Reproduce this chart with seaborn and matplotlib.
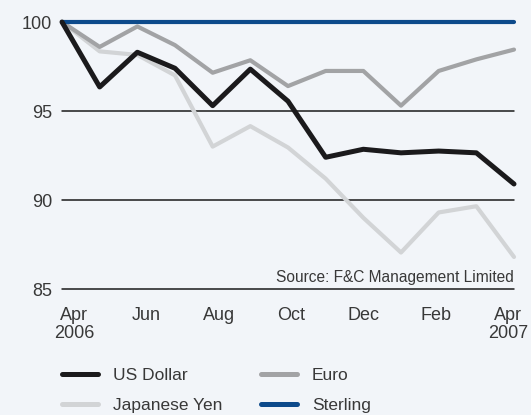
import numpy as np
import pandas as pd
import matplotlib
matplotlib.use("Agg")
import matplotlib.pyplot as plt
import seaborn as sns

# Monthly index values, Apr 2006 .. Apr 2007 (rebased to 100)
months = ["Apr 06", "May 06", "Jun 06", "Jul 06", "Aug 06", "Sep 06", "Oct 06",
          "Nov 06", "Dec 06", "Jan 07", "Feb 07", "Mar 07", "Apr 07"]
us_dollar = [100, 96.35, 98.3, 97.4, 95.3, 97.35, 95.55, 92.4, 92.85, 92.65, 92.75, 92.65, 90.9]
euro = [100, 98.6, 99.75, 98.7, 97.15, 97.85, 96.4, 97.25, 97.25, 95.3, 97.25, 97.9, 98.45]
yen = [100, 98.35, 98.15, 97.0, 93.0, 94.15, 92.95, 91.2, 89.0, 87.05, 89.3, 89.65, 86.8]
sterling = [100] * 13

tick_labels = ["Apr\n2006", "Jun", "Aug", "Oct", "Dec", "Feb", "Apr\n2007"]
y_ticks = [85, 90, 95, 100]

series_names = ["US Dollar", "Japanese Yen", "Euro", "Sterling"]
series_colors = {"US Dollar": "#1b1a1c", "Japanese Yen": "#d2d4d6",
                 "Euro": "#a2a3a5", "Sterling": "#0d4a8b"}

df = pd.DataFrame({
    "idx": np.arange(len(months)),
    "US Dollar": us_dollar,
    "Euro": euro,
    "Japanese Yen": yen,
    "Sterling": sterling,
})
long = df.melt(id_vars="idx", var_name="currency", value_name="value")

sns.set_theme(style="white")
plt.rcParams["font.family"] = ["Liberation Sans", "DejaVu Sans"]

bg = "#f2f5f9"
txt = "#383838"
fig = plt.figure(figsize=(5.31, 4.15), dpi=100, facecolor=bg)
ax = fig.add_axes([62 / 531, 1 - 289 / 415, 452 / 531, 267 / 415])
ax.set_facecolor(bg)

# gridlines first
for y in y_ticks:
    ax.axhline(y, color="#1a1a1a", lw=1.1, zorder=1, clip_on=False)

draw_order = ["Japanese Yen", "Euro", "Sterling", "US Dollar"]
widths = {"US Dollar": 3.6, "Japanese Yen": 3.0, "Euro": 3.0, "Sterling": 3.0}
for i, name in enumerate(draw_order):
    sub = long[long["currency"] == name]
    sns.lineplot(data=sub, x="idx", y="value", ax=ax, color=series_colors[name],
                 lw=widths[name], legend=False, zorder=2 + i, clip_on=False,
                 solid_capstyle="round", solid_joinstyle="round")

ax.set_xlim(0, 12)
ax.set_ylim(85, 100)
ax.set_yticks(y_ticks)
ax.set_yticklabels([str(v) for v in y_ticks])
ax.set_xticks(np.linspace(0.32, 11.84, len(tick_labels)))
ax.set_xticklabels(tick_labels, linespacing=1.1)
ax.tick_params(axis="both", length=0, labelsize=13, colors=txt)
ax.tick_params(axis="y", pad=7)
ax.tick_params(axis="x", pad=13)
ax.set_xlabel("")
ax.set_ylabel("")
for s in ax.spines.values():
    s.set_visible(False)

ax.text(12, 85.25, "Source: F&C Management Limited", ha="right", va="bottom",
        fontsize=11.2, color=txt)

handles = [plt.Line2D([], [], color=series_colors[n], lw=3.6) for n in series_names]
fig.legend(handles, series_names, loc="upper left", bbox_to_anchor=(62 / 531, 1 - 368 / 415),
           ncol=2, frameon=False, fontsize=12.5, handlelength=2.1, handletextpad=0.85,
           columnspacing=2.2, labelspacing=0.85, borderpad=0, borderaxespad=0,
           labelcolor=txt)

fig.savefig("out.png", dpi=100, facecolor=bg)
